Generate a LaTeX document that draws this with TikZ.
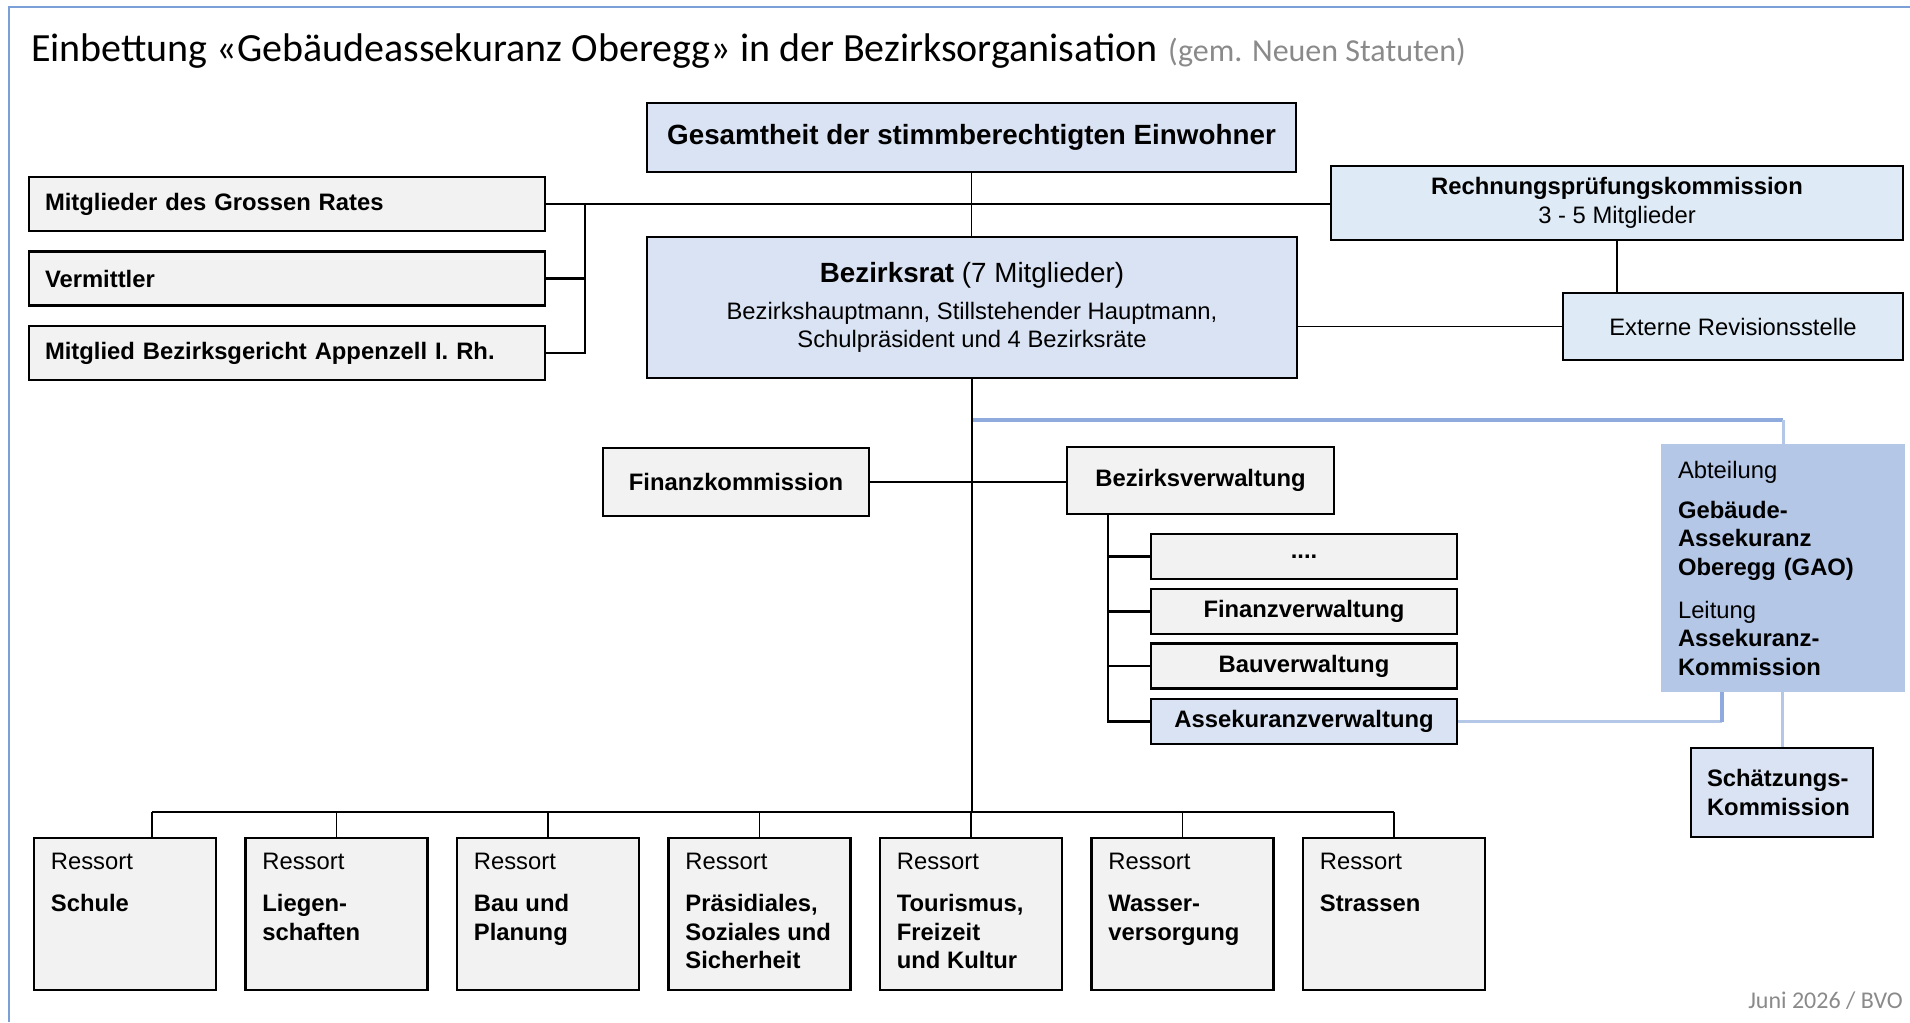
\documentclass[tikz,border=0pt]{standalone}
\usepackage{fontspec}
\setmainfont{Liberation Sans}
\newfontfamily\slidefont{Carlito}

\definecolor{frameblue}{HTML}{7BA0D8}
\definecolor{greyfill}{HTML}{F2F2F2}
\definecolor{bluefill}{HTML}{DAE3F3}
\definecolor{palefill}{HTML}{DEEBF7}
\definecolor{deptfill}{HTML}{B4C7E7}
\definecolor{linkblue}{HTML}{8FAADC}
\definecolor{linklight}{HTML}{B4C7E7}
\definecolor{notegrey}{HTML}{8A8A8A}

\newcommand\bodysize{\fontsize{23.8}{28.5}\selectfont}
\newcommand\headsize{\fontsize{27.8}{32}\selectfont}

\begin{document}
\begin{tikzpicture}[x=1pt,y=-1pt,
  orgbox/.style={draw=black, line width=2.6pt, inner sep=0pt, font=\bodysize\bfseries, align=center},
  greybox/.style={orgbox, fill=greyfill},
  bluebox/.style={orgbox, fill=bluefill},
  palebox/.style={orgbox, fill=palefill, font=\bodysize},
  leftbox/.style={greybox, inner xsep=16pt, text width=484pt, align=left, minimum height=54pt},
  subbox/.style={greybox, minimum width=306pt, minimum height=45pt},
  ressortbox/.style={greybox, minimum width=182pt, minimum height=152pt},
  ressorttext/.style={inner sep=0pt, align=left, font=\bodysize, anchor=north west},
  deptbox/.style={fill=deptfill, inner sep=0pt, inner xsep=17pt, text width=210pt, align=left, font=\bodysize, minimum height=248pt},
  thickline/.style={line width=2.6pt},
  thinline/.style={line width=1.6pt},
  hairline/.style={line width=1.1pt},
  bluelink/.style={draw=linkblue, line width=4pt},
  bluelight/.style={draw=linklight, line width=3pt}]
\useasboundingbox (0,0) rectangle (1910,1022);
\draw[frameblue, line width=1.2pt] (9,1022) -- (9,7) -- (1910,7);

% title and footer
\node[anchor=base west, inner sep=0pt, font=\slidefont\fontsize{40}{47}\selectfont] (title) at (31,62) {Einbettung «Gebäudeassekuranz Oberegg» in der Bezirksorganisation};
\node[anchor=base west, inner sep=0pt, text=notegrey, font=\slidefont\fontsize{32}{38}\selectfont] (subtitle) at (1168,62) {(gem. Neuen Statuten)};
\node[anchor=base east, inner sep=0pt, text=notegrey, font=\slidefont\fontsize{24}{29}\selectfont] (footer) at (1903,1008) {Juni 2026 / BVO};

% upper level
\node[bluebox, minimum width=649pt, minimum height=69pt, font=\headsize\bfseries] (gesamt) at (971.5,137.5) {Gesamtheit der stimmberechtigten Einwohner};
\node[leftbox] (grossrat) at (287,204) {Mitglieder des Grossen Rates};
\node[leftbox] (vermittler) at (287,278.5) {Vermittler};
\node[leftbox] (gericht) at (287,353) {Mitglied Bezirksgericht Appenzell I. Rh.};
\node[palebox, minimum width=572pt, minimum height=74pt] (rpk) at (1617,203) {\textbf{Rechnungsprüfungskommission}\\3 - 5 Mitglieder};
\node[bluebox, minimum width=650pt, minimum height=141pt, font=\bodysize] (bezirksrat) at (972,307.5) {{\headsize\textbf{Bezirksrat} (7 Mitglieder)}\\[8pt]Bezirkshauptmann, Stillstehender Hauptmann,\\Schulpräsident und 4 Bezirksräte};
\node[palebox, minimum width=340pt, minimum height=67pt] (extern) at (1733,326.5) {Externe Revisionsstelle};

\coordinate (lefttrunk) at (585,204);
\draw[thickline] (grossrat.east) -- (grossrat.east -| rpk.west);
\draw[thickline] (lefttrunk) |- (gericht.east);
\draw[thickline] (vermittler.east) -- (vermittler.east -| lefttrunk);
\draw[thinline] (gesamt.south) -- (gesamt.south |- bezirksrat.north);
\draw[hairline] (rpk.south) -- (rpk.south |- extern.north);
\draw[hairline] (extern.west) -- (extern.west -| bezirksrat.east);

% administration
\node[greybox, minimum width=266pt, minimum height=68pt] (finanzk) at (736,482) {Finanzkommission};
\node[greybox, minimum width=267pt, minimum height=67pt] (bverw) at (1200.5,480.5) {Bezirksverwaltung};
\node[subbox] (etc) at (1304,556.5) {....};
\node[subbox] (finverw) at (1304,611.5) {Finanzverwaltung};
\node[subbox] (bauverw) at (1304,666) {Bauverwaltung};
\node[subbox, fill=bluefill] (assverw) at (1304,721.5) {Assekuranzverwaltung};

\draw[thickline] (finanzk.east) -- (finanzk.east -| bverw.west);
\coordinate (bvtrunk) at ([xshift=-92.5pt]bverw.south);
\draw[thickline] (bvtrunk) |- (assverw.west);
\foreach \n in {etc,finverw,bauverw}
  \draw[thickline] (\n.west) -- (\n.west -| bvtrunk);

% GAO
\node[deptbox] (abteilung) at (1783,568) {Abteilung\\[11.5pt]\textbf{Gebäude-}\\\textbf{Assekuranz}\\\textbf{Oberegg (GAO)}\\[14.5pt]Leitung\\\textbf{Assekuranz-}\\\textbf{Kommission}};
\node[bluebox, inner xsep=16pt, text width=150pt, align=left, minimum height=89pt] (schaetz) at (1782,792.5) {Schätzungs-\\Kommission};

\coordinate (deptlink) at (bezirksrat.south |- 0,420);
\coordinate (asslink) at ([xshift=-61pt]abteilung.south);
\draw[bluelink] (deptlink) -- (deptlink -| abteilung.north);
\draw[bluelight] (deptlink -| abteilung.north) -- (abteilung.north);
\draw[bluelight] (assverw.east) -- (assverw.east -| asslink);
\draw[bluelink] (assverw.east -| asslink) -- (asslink);
\draw[bluelight] (schaetz.north |- abteilung.south) -- (schaetz.north);

% ressorts
\foreach \i in {1,...,7}
  \node[ressortbox] (ressort\i) at ({125+211.5*(\i-1)},914) {};
\node[ressorttext] (schule) at ([xshift=18pt,yshift=-16pt]ressort1.north west) {Ressort\\[14pt]\textbf{Schule}};
\node[ressorttext] (liegen) at ([xshift=18pt,yshift=-16pt]ressort2.north west) {Ressort\\[14pt]\textbf{Liegen-}\\\textbf{schaften}};
\node[ressorttext] (bau) at ([xshift=18pt,yshift=-16pt]ressort3.north west) {Ressort\\[14pt]\textbf{Bau und}\\\textbf{Planung}};
\node[ressorttext] (praes) at ([xshift=18pt,yshift=-16pt]ressort4.north west) {Ressort\\[14pt]\textbf{Präsidiales,}\\\textbf{Soziales und}\\\textbf{Sicherheit}};
\node[ressorttext] (tourismus) at ([xshift=18pt,yshift=-16pt]ressort5.north west) {Ressort\\[14pt]\textbf{Tourismus,}\\\textbf{Freizeit}\\\textbf{und Kultur}};
\node[ressorttext] (wasser) at ([xshift=18pt,yshift=-16pt]ressort6.north west) {Ressort\\[14pt]\textbf{Wasser-}\\\textbf{versorgung}};
\node[ressorttext] (strassen) at ([xshift=18pt,yshift=-16pt]ressort7.north west) {Ressort\\[14pt]\textbf{Strassen}};

\coordinate (bus) at (bezirksrat.south |- 0,812);
\coordinate (schuletop) at ([xshift=27pt]ressort1.north);
\draw[thinline] (bezirksrat.south) -- (bus);
\draw[thinline] (schuletop |- bus) -- (ressort7.north |- bus);
\draw[thinline] (schuletop) -- (schuletop |- bus);
\foreach \i in {2,...,7}
  \draw[thinline] (ressort\i.north) -- (ressort\i.north |- bus);
\end{tikzpicture}
\end{document}
